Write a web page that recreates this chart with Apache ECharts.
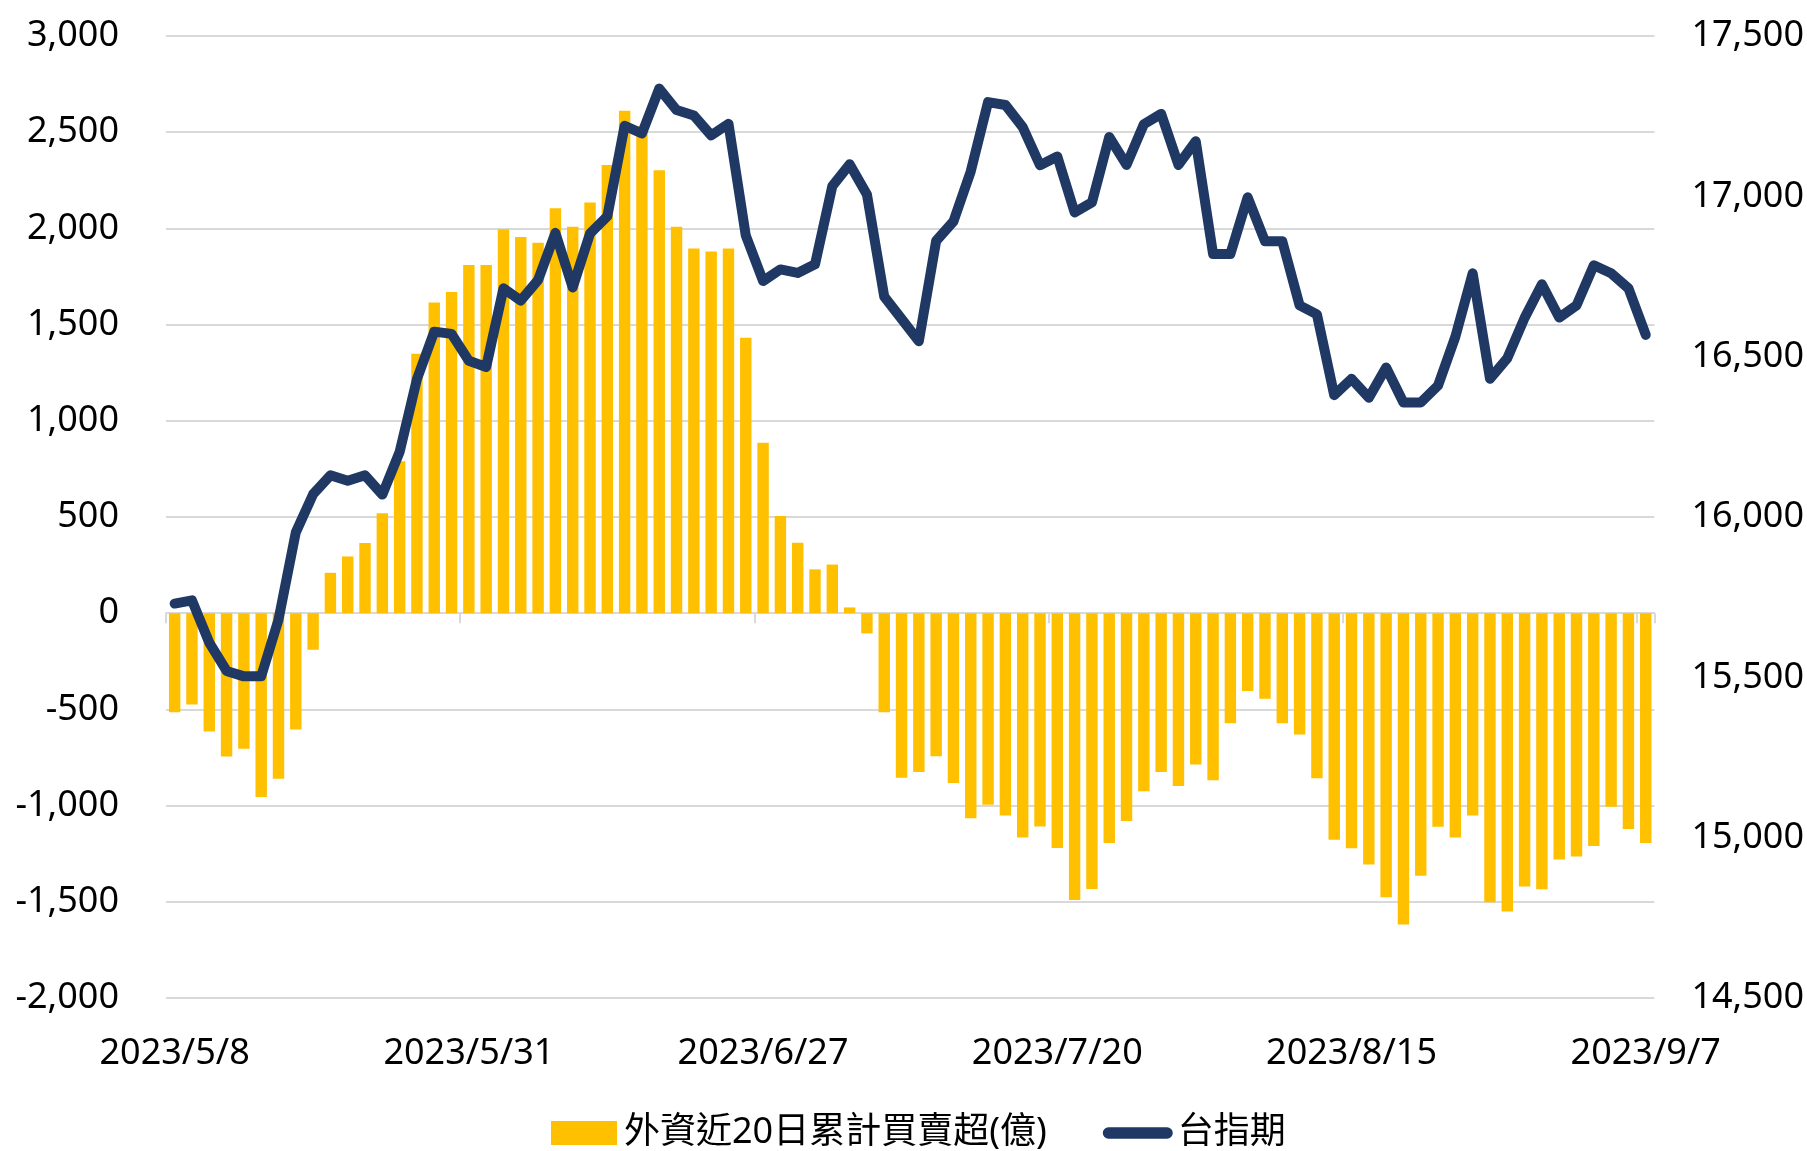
<!DOCTYPE html>
<html>
<head>
<meta charset="utf-8">
<script src="https://cdn.jsdelivr.net/npm/echarts@6/dist/echarts.min.js"></script>
<style>
  html, body { margin: 0; padding: 0; background: #fff; }
  #chart { width: 1807px; height: 1151px; }
</style>
</head>
<body>
<div id="chart"></div>
<script>
// trading days, 2023/5/8 - 2023/9/7
const dates = [
  '2023/5/8','2023/5/9','2023/5/10','2023/5/11','2023/5/12','2023/5/15','2023/5/16','2023/5/17','2023/5/18','2023/5/19',
  '2023/5/22','2023/5/23','2023/5/24','2023/5/25','2023/5/26','2023/5/29','2023/5/30','2023/5/31',
  '2023/6/1','2023/6/2','2023/6/5','2023/6/6','2023/6/7','2023/6/8','2023/6/9','2023/6/12','2023/6/13','2023/6/14',
  '2023/6/15','2023/6/16','2023/6/19','2023/6/20','2023/6/21','2023/6/26','2023/6/27','2023/6/28','2023/6/29','2023/6/30',
  '2023/7/3','2023/7/4','2023/7/5','2023/7/6','2023/7/7','2023/7/10','2023/7/11','2023/7/12','2023/7/13','2023/7/14',
  '2023/7/17','2023/7/18','2023/7/19','2023/7/20','2023/7/21','2023/7/24','2023/7/25','2023/7/26','2023/7/27','2023/7/28',
  '2023/7/31','2023/8/1','2023/8/2','2023/8/4','2023/8/7','2023/8/8','2023/8/9','2023/8/10','2023/8/11','2023/8/14',
  '2023/8/15','2023/8/16','2023/8/17','2023/8/18','2023/8/21','2023/8/22','2023/8/23','2023/8/24','2023/8/25','2023/8/28',
  '2023/8/29','2023/8/30','2023/8/31','2023/9/1','2023/9/4','2023/9/5','2023/9/6','2023/9/7'
];

// 外資近20日累計買賣超(億)
const foreignNet = [
  -515, -475, -615, -745, -705, -955, -860, -605, -190, 210,
  295, 365, 520, 790, 1348, 1615, 1670, 1810, 1810, 1995,
  1955, 1925, 2105, 2008, 2135, 2330, 2612, 2530, 2302, 2008,
  1895, 1880, 1895, 1432, 886, 505, 366, 228, 253, 30,
  -105, -515, -855, -826, -744, -882, -1066, -996, -1052, -1166,
  -1108, -1220, -1490, -1433, -1195, -1080, -926, -826, -898, -786,
  -868, -572, -404, -444, -572, -630, -858, -1178, -1222, -1306,
  -1476, -1618, -1364, -1110, -1166, -1052, -1502, -1550, -1420, -1435,
  -1280, -1265, -1210, -1006, -1122, -1194
];

// 台指期
const futures = [
  15730, 15740, 15608, 15520, 15503, 15503, 15680, 15952, 16071, 16130,
  16113, 16130, 16070, 16203, 16430, 16578, 16571, 16487, 16468, 16713,
  16675, 16739, 16886, 16716, 16884, 16938, 17220, 17196, 17336, 17269,
  17252, 17190, 17226, 16878, 16736, 16772, 16761, 16788, 17032, 17100,
  17006, 16687, 16618, 16548, 16861, 16922, 17078, 17294, 17285, 17216,
  17097, 17124, 16950, 16981, 17185, 17098, 17225, 17257, 17098, 17172,
  16820, 16820, 16997, 16860, 16860, 16660, 16632, 16380, 16431, 16372,
  16466, 16357, 16357, 16410, 16562, 16760, 16431, 16495, 16621, 16726,
  16622, 16660, 16785, 16760, 16713, 16568
];

const FONT = "'Noto Sans', 'Noto Sans CJK TC', sans-serif";
const fmt = v => v.toLocaleString('en-US');

const chart = echarts.init(document.getElementById('chart'));
chart.setOption({
  animation: false,
  textStyle: { fontFamily: FONT },
  grid: { left: 166, right: 152, top: 36, bottom: 153 },
  legend: {
    top: 1110,
    left: 546,
    itemGap: 56,
    itemWidth: 70,
    itemHeight: 24,
    textStyle: { fontSize: 36, color: '#000', fontFamily: FONT },
    data: [
      { name: '外資近20日累計買賣超(億)', icon: 'path://M0,0 L66,0 L66,24 L0,24 Z' },
      { name: '台指期', icon: 'path://M6,0 L68,0 A6,6 0 0 1 68,12 L6,12 A6,6 0 0 1 6,0 Z' }
    ]
  },
  xAxis: [
    {
      type: 'category',
      data: dates,
      position: 'bottom',
      axisLine: { show: false, onZero: false },
      axisTick: { show: false },
      axisLabel: { interval: 16, fontSize: 36, color: '#000', margin: 38, fontFamily: FONT }
    },
    {
      type: 'category',
      data: dates,
      position: 'bottom',
      axisLine: { show: true, onZero: true, lineStyle: { color: '#D9D9D9', width: 2 } },
      axisTick: { show: true, interval: 16, length: 10, lineStyle: { color: '#D9D9D9', width: 2 } },
      axisLabel: { show: false }
    }
  ],
  yAxis: [
    {
      type: 'value',
      min: -2000, max: 3000, interval: 500,
      axisLine: { show: false },
      axisTick: { show: false },
      splitLine: { lineStyle: { color: '#D9D9D9', width: 2 } },
      axisLabel: { formatter: fmt, fontSize: 36, color: '#000', margin: 47, fontFamily: FONT }
    },
    {
      type: 'value',
      min: 14500, max: 17500, interval: 500,
      axisLine: { show: false },
      axisTick: { show: false },
      splitLine: { show: false },
      axisLabel: { formatter: fmt, fontSize: 36, color: '#000', margin: 37, fontFamily: FONT }
    }
  ],
  series: [
    {
      name: '外資近20日累計買賣超(億)',
      type: 'bar',
      xAxisIndex: 0,
      yAxisIndex: 0,
      data: foreignNet,
      barWidth: '66%',
      itemStyle: { color: '#FFC000' }
    },
    {
      name: '台指期',
      type: 'line',
      xAxisIndex: 0,
      yAxisIndex: 1,
      data: futures,
      symbol: 'none',
      z: 5,
      lineStyle: { color: '#1F3864', width: 10, cap: 'round', join: 'round' },
      itemStyle: { color: '#1F3864' }
    }
  ]
});
</script>
</body>
</html>
